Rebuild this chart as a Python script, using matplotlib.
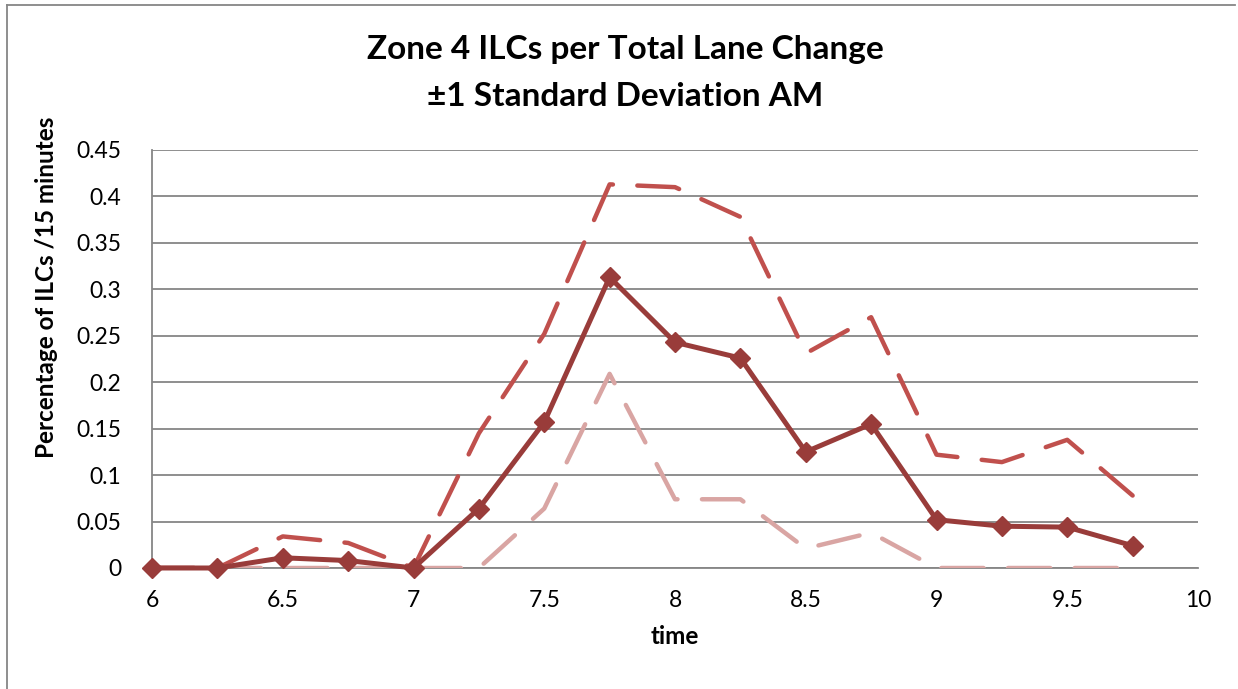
import matplotlib
matplotlib.use("Agg")
import matplotlib.pyplot as plt
from matplotlib.lines import Line2D

plt.rcParams["font.family"] = ["Lato", "DejaVu Sans"]

# time of day (15 minute steps)
times = [6.0, 6.25, 6.5, 6.75, 7.0, 7.25, 7.5, 7.75, 8.0, 8.25, 8.5, 8.75, 9.0, 9.25, 9.5, 9.75]

# mean share of ILCs per total lane change
mean_vals = [0.0, 0.0, 0.011, 0.008, 0.0, 0.064, 0.157, 0.313, 0.243, 0.226,
             0.125, 0.155, 0.052, 0.045, 0.044, 0.024]
# mean + 1 std
upper_vals = [0.0, 0.0, 0.034, 0.027, 0.0, 0.145, 0.252, 0.413, 0.410, 0.378,
              0.231, 0.270, 0.122, 0.114, 0.138, 0.078]
# mean - 1 std
lower_vals = [0.0, 0.0, 0.0, 0.0, 0.0, 0.0, 0.064, 0.209, 0.074, 0.074,
              0.021, 0.038, 0.0, 0.0, 0.0, 0.0]

xticks = [6, 6.5, 7, 7.5, 8, 8.5, 9, 9.5, 10]
yticks = [0, 0.05, 0.1, 0.15, 0.2, 0.25, 0.3, 0.35, 0.4, 0.45]

W, H = 1238, 689
fig = plt.figure(figsize=(W / 100, H / 100), dpi=100)
ax = fig.add_axes([152 / W, 1 - 568 / H, (1198 - 152) / W, (568 - 150) / H])

grid_col = "#868686"

ax.plot(times, upper_vals, color="#C0504D", lw=3.2, dashes=(9.5, 5.5),
        dash_capstyle="round", solid_capstyle="round", zorder=3)
ax.plot(times, lower_vals, color="#D9A5A3", lw=3.2, dashes=(9.5, 5.5),
        dash_capstyle="round", solid_capstyle="round", zorder=3)
ax.plot(times, mean_vals, color="#993C3A", lw=3.6, marker="D", markersize=10.5,
        markerfacecolor="#993C3A", markeredgecolor="#993C3A", zorder=4,
        clip_on=False)

ax.set_xlim(6, 10)
ax.set_ylim(0, 0.45)
ax.set_xticks(xticks)
ax.set_xticklabels([f"{t:g}" for t in xticks])
ax.set_yticks(yticks)
ax.set_yticklabels([f"{v:g}" for v in yticks])
ax.tick_params(axis="both", length=0, labelsize=16.5, colors="black")
ax.tick_params(axis="x", pad=16)
ax.tick_params(axis="y", pad=22)

ax.yaxis.grid(True, color=grid_col, lw=1.3)
ax.set_axisbelow(True)
for side in ["top", "right"]:
    ax.spines[side].set_visible(False)
for side in ["left", "bottom"]:
    ax.spines[side].set_color(grid_col)
    ax.spines[side].set_linewidth(1.3)

ax.set_xlabel("time", fontsize=17.5, fontweight="bold", labelpad=10)
ax.set_ylabel("Percentage of ILCs /15 minutes", fontsize=17.5, fontweight="bold")
ax.yaxis.set_label_coords((58 - 152) / (1198 - 152), (568 - 287) / (568 - 150))

fig.text(625 / W, 1 - 50 / H, "Zone 4 ILCs per Total Lane Change", ha="center",
         va="center", fontsize=24, fontweight="bold")
fig.text(625 / W, 1 - 96 / H, "±1 Standard Deviation AM", ha="center",
         va="center", fontsize=24, fontweight="bold")

# outer chart frame (top and left visible)
fig.add_artist(Line2D([7 / W, 7 / W], [0, 1 - 5 / H], color=grid_col, lw=1.3))
fig.add_artist(Line2D([7 / W, 1235 / W], [1 - 5 / H, 1 - 5 / H], color=grid_col, lw=1.3))

fig.savefig("out.png", dpi=100, facecolor="white")
